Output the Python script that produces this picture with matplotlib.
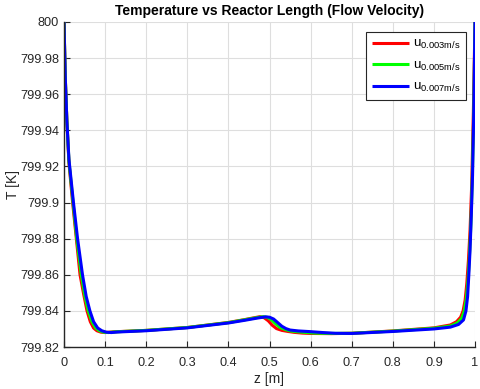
import matplotlib
matplotlib.use("Agg")
import matplotlib.pyplot as plt
from matplotlib.ticker import FuncFormatter

plt.rcParams['font.family'] = ['Liberation Sans', 'DejaVu Sans']
plt.rcParams['mathtext.default'] = 'regular'

# ---- data ----
z_r = [0, 0.003, 0.007, 0.012, 0.021, 0.030, 0.039, 0.048, 0.056, 0.064, 0.072, 0.080, 0.090, 0.100,
       0.12, 0.2, 0.3, 0.4, 0.44, 0.465, 0.477, 0.487, 0.497, 0.507, 0.517, 0.53, 0.545, 0.56, 0.58, 0.6,
       0.65, 0.7, 0.8, 0.9, 0.94, 0.955, 0.965, 0.971, 0.976, 0.980, 0.984, 0.988, 0.992, 0.996, 1.0]
T_r = [800, 799.97, 799.945, 799.922, 799.9, 799.88, 799.86, 799.849, 799.84, 799.834, 799.8305, 799.829, 799.8282, 799.828,
       799.8284, 799.8292, 799.8308, 799.8336, 799.8352, 799.8363, 799.8368, 799.8362, 799.8345, 799.832, 799.8302, 799.8292, 799.8286, 799.8281, 799.8277, 799.8275,
       799.8274, 799.8276, 799.8289, 799.8306, 799.8322, 799.834, 799.8365, 799.84, 799.846, 799.855, 799.868, 799.885, 799.91, 799.95, 800]

z_g = [0, 0.003, 0.007, 0.012, 0.022, 0.031, 0.042, 0.051, 0.059, 0.068, 0.077, 0.086, 0.096, 0.108,
       0.125, 0.2, 0.3, 0.4, 0.44, 0.47, 0.485, 0.495, 0.505, 0.515, 0.525, 0.538, 0.55, 0.565, 0.585, 0.61,
       0.65, 0.7, 0.8, 0.9, 0.94, 0.957, 0.968, 0.974, 0.979, 0.983, 0.986, 0.99, 0.993, 0.997, 1.0]
T_g = [800, 799.97, 799.945, 799.923, 799.9, 799.88, 799.86, 799.848, 799.84, 799.834, 799.8305, 799.829, 799.8282, 799.828,
       799.8284, 799.8292, 799.8308, 799.8335, 799.8351, 799.8363, 799.8368, 799.8364, 799.835, 799.8328, 799.8309, 799.8297, 799.8289, 799.8285, 799.8281, 799.8277,
       799.8275, 799.8276, 799.8288, 799.8304, 799.8316, 799.8333, 799.836, 799.84, 799.847, 799.857, 799.868, 799.888, 799.91, 799.95, 800]

z_b = [0, 0.003, 0.007, 0.012, 0.023, 0.033, 0.045, 0.054, 0.063, 0.072, 0.082, 0.092, 0.103, 0.115,
       0.13, 0.2, 0.3, 0.4, 0.44, 0.47, 0.49, 0.5, 0.51, 0.52, 0.53, 0.54, 0.55, 0.57, 0.6, 0.63,
       0.66, 0.7, 0.8, 0.9, 0.94, 0.96, 0.972, 0.978, 0.982, 0.985, 0.988, 0.991, 0.994, 0.997, 1.0]
T_b = [800, 799.97, 799.945, 799.924, 799.9, 799.88, 799.86, 799.848, 799.84, 799.834, 799.8305, 799.829, 799.8282, 799.828,
       799.8283, 799.829, 799.8306, 799.8333, 799.8348, 799.836, 799.8367, 799.8365, 799.8355, 799.8335, 799.8315, 799.8302, 799.8294, 799.8289, 799.8285, 799.828,
       799.8276, 799.8275, 799.8286, 799.8300, 799.831, 799.8325, 799.835, 799.84, 799.848, 799.86, 799.874, 799.893, 799.915, 799.95, 800]

labels = [r'u$_{0.003m/s}$', r'u$_{0.005m/s}$', r'u$_{0.007m/s}$']
colors = ['#ff0000', '#00ff00', '#0000ff']

x_ticks = [0, 0.1, 0.2, 0.3, 0.4, 0.5, 0.6, 0.7, 0.8, 0.9, 1.0]
y_ticks = [799.82, 799.84, 799.86, 799.88, 799.9, 799.92, 799.94, 799.96, 799.98, 800]

fig = plt.figure(figsize=(4.8, 3.89), dpi=100)
ax = fig.add_axes([64/480, 1-347/389, 411/480, 325/389])

for z, T, lab, c in zip([z_r, z_g, z_b], [T_r, T_g, T_b], labels, colors):
    ax.plot(z, T, color=c, lw=2.2, label=lab, solid_capstyle='butt', clip_on=True)

ax.set_xlim(0, 1)
ax.set_ylim(799.82, 800)
ax.set_xticks(x_ticks)
ax.set_yticks(y_ticks)
ax.xaxis.set_major_formatter(FuncFormatter(lambda v, p: f'{v:g}'))
ax.yaxis.set_major_formatter(FuncFormatter(lambda v, p: f'{round(v, 2):g}'))

ax.grid(True, color='#dedede', lw=0.8)
ax.set_axisbelow(True)
for s in ['top', 'right']:
    ax.spines[s].set_visible(False)
for s in ['left', 'bottom']:
    ax.spines[s].set_color('#262626')
    ax.spines[s].set_linewidth(1.0)
ax.tick_params(direction='in', length=4, colors='#262626', labelsize=9.2, width=0.8)
ax.tick_params(axis='y', pad=3.6)
ax.tick_params(axis='x', pad=7.0)

ax.set_title('Temperature vs Reactor Length (Flow Velocity)', fontsize=10, fontweight='bold', color='black', pad=5)
ax.set_xlabel('z [m]', fontsize=10, color='#262626', labelpad=2)
ax.set_ylabel('T [K]', fontsize=10, color='#262626', labelpad=0)

leg = ax.legend(loc='upper right', bbox_to_anchor=(402/411, 1 - 10/325), fontsize=9.5,
                frameon=True, fancybox=False, edgecolor='#262626', framealpha=1,
                handlelength=2.8, borderpad=0.45, labelspacing=0.62, handletextpad=0.3, borderaxespad=0)
leg.get_frame().set_linewidth(0.8)

fig.savefig('out.png', dpi=100)
